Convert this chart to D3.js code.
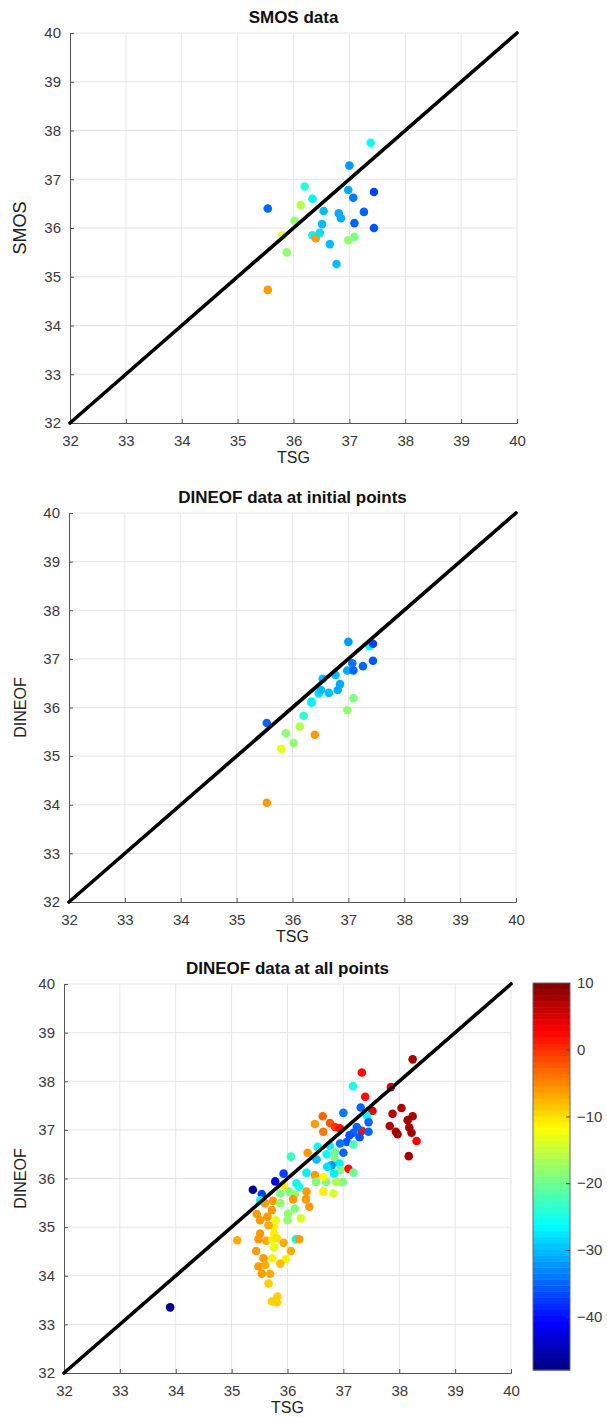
<!DOCTYPE html>
<html><head><meta charset="utf-8">
<script src="https://cdn.jsdelivr.net/npm/d3@7"></script>
<style>body{margin:0;background:#fff;} svg{display:block;font-family:"Liberation Sans",Arial,sans-serif;}</style>
</head><body><svg id="c" width="607" height="1417"></svg>
<script>
const axisTicks = [32,33,34,35,36,37,38,39,40];
const colorbarTicks = [10,0,-10,-20,-30,-40];
const colorDomain = [-48, 10];

// stations used in the first two panels
const tsgInit   = [35.54,35.54,35.80,35.88,36.02,36.13,36.20,36.34,36.34,36.40,36.47,36.51,36.54,36.65,36.77,36.81,36.85,36.98,36.98,37.00,37.07,37.09,37.09,37.26,37.38,37.44,37.44];
const smosInit  = [36.40,34.73,35.85,35.50,36.15,36.47,36.85,36.60,35.85,35.79,35.90,36.08,36.35,35.67,35.26,36.30,36.20,36.78,35.75,37.28,36.62,36.10,35.82,36.33,37.75,36.74,36.00];
const dineofInit= [35.68,34.04,35.15,35.47,35.27,35.61,35.83,36.10,36.12,35.44,36.29,36.36,36.59,36.30,36.67,36.36,36.48,36.76,35.95,37.35,36.91,36.76,36.19,36.85,37.26,37.31,36.96];
const colorInit = [-35,-6,-13,-18,-18,-16,-24,-27,-27,-6,-28,-30,-30,-30,-30,-31,-31,-31,-18,-32,-34,-35,-19,-35,-26,-37,-36];

// all points (third panel)
const tsgAll = [36.49,36.54,36.70,36.06,36.36,36.52,35.93,35.78,35.38,35.54,36.34,36.49,36.51,36.69,36.16,36.21,36.03,36.13,35.93,35.87,36.34,36.10,36.33,36.39,35.74,35.60,35.51,35.87,36.13,36.01,36.00,36.24,35.72,35.45,35.51,35.64,35.79,35.76,35.66,35.51,35.76,35.48,35.62,35.10,35.73,35.81,35.93,36.15,36.21,35.76,35.44,35.57,35.73,35.97,36.06,35.87,35.48,35.60,35.54,35.69,35.66,35.82,35.72,35.81,
  38.24,37.33,37.17,37.85,37.39,37.31,37.52,37.00,38.04,37.88,37.42,37.45,38.24,38.15,38.18,37.83,37.94,37.97,38.22,38.31,38.17,36.63,36.76,36.85,36.64,36.94,37.33,37.18,37.45,37.29,37.11,37.24,37.06,36.94,37.18,36.76,37.00,36.85,36.85,36.93,36.79,36.71,37.09,37.18,36.94,36.83,36.99,36.87,36.64,36.64,36.82,
  33.90];
const dineofAll = [37.12,36.65,36.50,36.45,36.53,36.39,36.10,35.94,35.77,35.68,36.12,36.07,35.93,35.93,35.90,35.83,35.73,35.67,35.86,35.69,35.73,35.57,35.57,35.42,35.54,35.49,35.55,35.49,35.38,35.28,35.14,35.18,35.35,35.27,35.14,35.21,35.14,35.01,35.04,34.87,34.87,34.75,34.72,34.73,34.75,34.77,34.68,34.75,34.75,34.58,34.51,34.36,34.36,34.34,34.51,34.25,34.19,34.22,34.04,34.04,33.84,33.57,33.47,33.45,
  38.45,38.18,37.90,37.88,37.68,37.46,37.39,37.35,37.45,37.33,37.29,37.16,37.28,37.20,37.05,37.08,36.96,36.91,36.94,36.77,36.46,37.28,37.14,37.06,36.96,37.03,36.98,36.94,36.96,36.85,36.89,37.06,36.75,36.72,36.70,36.67,36.53,36.55,36.39,36.31,36.27,36.24,36.20,36.12,36.17,36.10,35.93,35.93,36.03,35.73,35.69,
  33.35];
const colorAll = [-6,-26,-26,-23,-6,-30,-37,-42,-47,-37,-27,-6,-19,-19,-26,-25,-19,-18,-11,-19,-6,-6,-6,-6,-6,-6,-26,-18,-19,-18,-18,-14,-6,-6,-6,-6,-13,-11,-7,-6,-11,-6,-7,-7,-11,-10,-7,-26,-6,-13,-6,-6,-11,-11,-7,-8,-6,-7,-6,-7,-9,-9,-9,-9,
  8,2,-25,5,2,-35,4,-34,7,7,-26,-35,8,8,8,7,8,8,8,3,8,-3,-2,0,-4,2,2,-35,-35,-36,-36,-35,-36,-34,-22,-27,-35,-20,-19,-27,-32,-28,2,-20,-19,-27,-19,-16,-12,-11,-14,
  -47];

function jetInterp(t){
  const f = x => Math.round(255*Math.max(0,Math.min(1,x)));
  return `rgb(${f(1.5-Math.abs(4*t-3))},${f(1.5-Math.abs(4*t-2))},${f(1.5-Math.abs(4*t-1))})`;
}
const color = d3.scaleSequential(jetInterp).domain(colorDomain);

const panels = [
  {title:"SMOS data", ylabel:"SMOS", ysize:18, x0:70, x1:517, y0:33, y1:423, xs:tsgInit, ys:smosInit, cs:colorInit},
  {title:"DINEOF data at initial points", ylabel:"DINEOF", ysize:16, x0:69, x1:516, y0:513, y1:902, xs:tsgInit, ys:dineofInit, cs:colorInit},
  {title:"DINEOF data at all points", ylabel:"DINEOF", ysize:16, x0:64, x1:511, y0:984, y1:1373, xs:tsgAll, ys:dineofAll, cs:colorAll, colorbar:true}
];

const svg = d3.select("#c");
const axisColor = "#555", textColor = "#3a3a3a";

panels.forEach(p => {
  const x = d3.scaleLinear().domain([32,40]).range([p.x0,p.x1]);
  const y = d3.scaleLinear().domain([32,40]).range([p.y1,p.y0]);
  const g = svg.append("g");
  g.selectAll(".gx").data(axisTicks.slice(1)).join("line")
    .attr("x1",d=>x(d)).attr("x2",d=>x(d)).attr("y1",p.y0).attr("y2",p.y1)
    .attr("stroke","#e5e5e5").attr("stroke-width",1);
  g.selectAll(".gy").data(axisTicks.slice(1)).join("line")
    .attr("y1",d=>y(d)).attr("y2",d=>y(d)).attr("x1",p.x0).attr("x2",p.x1)
    .attr("stroke","#e5e5e5").attr("stroke-width",1);
  const xa = g.append("g").attr("transform",`translate(0,${p.y1})`)
    .call(d3.axisBottom(x).tickValues(axisTicks).tickSize(-4).tickPadding(9).tickFormat(d3.format("d")));
  const ya = g.append("g").attr("transform",`translate(${p.x0},0)`)
    .call(d3.axisLeft(y).tickValues(axisTicks).tickSize(-4).tickPadding(9).tickFormat(d3.format("d")));
  [xa,ya].forEach(a=>{
    a.select(".domain").attr("stroke",axisColor);
    a.selectAll(".tick line").attr("stroke",axisColor);
    a.selectAll("text").attr("fill",textColor).style("font-size","15px").style("font-family","'Liberation Sans',Arial,sans-serif");
  });
  xa.selectAll("text").attr("dy","0.9em");
  const idx = d3.range(p.xs.length);
  g.selectAll("circle").data(idx).join("circle")
    .attr("cx",i=>x(p.xs[i])).attr("cy",i=>y(p.ys[i])).attr("r",4.3)
    .attr("fill",i=>color(p.cs[i]));
  g.append("line").attr("x1",x(32)).attr("y1",y(32)).attr("x2",x(40)).attr("y2",y(40))
    .attr("stroke","#000").attr("stroke-width",3.6).attr("stroke-linecap","round");
  g.append("text").attr("x",(p.x0+p.x1)/2).attr("y",p.y0-10).attr("text-anchor","middle")
    .attr("font-weight","bold").attr("font-size",17).attr("fill","#111").text(p.title);
  g.append("text").attr("x",(p.x0+p.x1)/2).attr("y",p.y1+40).attr("text-anchor","middle")
    .attr("font-size",16).attr("fill","#222").text("TSG");
  g.append("text").attr("transform",`translate(26,${(p.y0+p.y1)/2}) rotate(-90)`).attr("text-anchor","middle")
    .attr("font-size",p.ysize).attr("fill","#222").text(p.ylabel);

  if (p.colorbar){
    const cb = {x0:533, x1:570, y0:983, y1:1370};
    const cy = d3.scaleLinear().domain(colorDomain).range([cb.y1,cb.y0]);
    const n = 64, step = (colorDomain[1]-colorDomain[0])/n;
    const bands = d3.range(n).map(i=>colorDomain[0]+i*step);
    g.selectAll(".band").data(bands).join("rect")
      .attr("x",cb.x0).attr("width",cb.x1-cb.x0)
      .attr("y",d=>cy(d+step)).attr("height",d=>cy(d)-cy(d+step)+0.5)
      .attr("fill",d=>color(d+step/2));
    g.append("rect").attr("x",cb.x0).attr("y",cb.y0).attr("width",cb.x1-cb.x0).attr("height",cb.y1-cb.y0)
      .attr("fill","none").attr("stroke","#666").attr("stroke-width",1);
    const ca = g.append("g").attr("transform",`translate(${cb.x1},0)`)
      .call(d3.axisRight(cy).tickValues(colorbarTicks).tickSize(-4).tickPadding(7).tickFormat(d3.format("d")));
    ca.select(".domain").remove();
    ca.selectAll(".tick line").attr("stroke","#444");
    ca.selectAll("text").attr("fill",textColor).style("font-size","15px").style("font-family","'Liberation Sans',Arial,sans-serif");
  }
});
</script></body></html>
